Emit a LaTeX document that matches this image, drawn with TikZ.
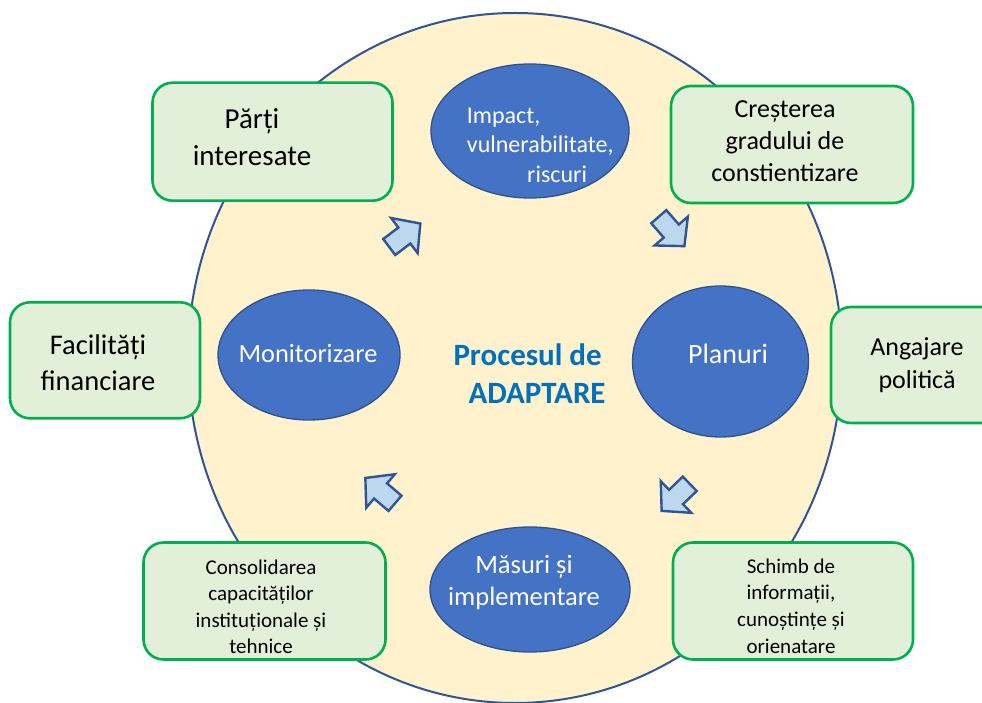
\documentclass[tikz,border=0pt]{standalone}
\usepackage{fontspec}
\setmainfont{Carlito}
\usetikzlibrary{shapes.geometric}
\definecolor{bigfill}{HTML}{FFF2CC}
\definecolor{bigline}{HTML}{2F5597}
\definecolor{ellfill}{HTML}{4472C4}
\definecolor{ellline}{HTML}{2F528F}
\definecolor{boxfill}{HTML}{E2F0D9}
\definecolor{boxline}{HTML}{00B050}
\definecolor{arrfill}{HTML}{BDD7EE}
\definecolor{arrline}{HTML}{2F5597}
\definecolor{titleblue}{HTML}{0070C0}
\newcommand\fsz[2]{\fontsize{#1}{#2}\selectfont}
\tikzset{
  bigell/.style={ellipse, draw=bigline, line width=2pt, fill=bigfill, inner sep=0},
  blueell/.style={ellipse, draw=ellline, line width=1.3pt, fill=ellfill, inner sep=0},
  greenbox/.style={rectangle, rounded corners=20pt, draw=boxline, line width=2.6pt, fill=boxfill, inner sep=0},
  struts/.style={execute at begin node=\strut, execute at end node=\strut},
  boxtext/.style={align=center, inner sep=0, text=black, struts},
  elltext/.style={inner sep=0, text=white},
  arrowshape/.style={draw=arrline, fill=arrfill, line width=2.4pt, line join=miter},
  blockarrow/.pic={\path[arrowshape] (0,-10)--(19,-10)--(19,-22)--(39,0)--(19,22)--(19,10)--(0,10)--cycle;}
}
\begin{document}
\begin{tikzpicture}[x=1pt,y=1pt]
\useasboundingbox (0,0) rectangle (982,702);
\clip (0,0) rectangle (982,702);
\fill[white] (0,0) rectangle (982,702);

% big background ellipse
\node[bigell, minimum width=654pt, minimum height=690pt] (big) at (515,344) {};

% green boxes
\node[greenbox, minimum width=240pt, minimum height=118pt] (bParti) at (272.5,560.3) {};
\node[greenbox, minimum width=242pt, minimum height=117pt] (bCrest) at (792,557.5) {};
\node[greenbox, minimum width=190pt, minimum height=116pt] (bFacil) at (105,341.7) {};
\node[greenbox, minimum width=172pt, minimum height=116pt] (bAngaj) at (917,337) {};
\node[greenbox, minimum width=242pt, minimum height=117pt] (bConsol) at (264.5,101) {};
\node[greenbox, minimum width=240pt, minimum height=117pt] (bSchimb) at (793,101) {};

% blue ellipses
\node[blueell, minimum width=198pt, minimum height=134pt] (eTop) at (530,571) {};
\node[blueell, minimum width=182pt, minimum height=130pt] (eLeft) at (309,347) {};
\node[blueell, minimum width=176pt, minimum height=151pt] (eRight) at (720.5,340.5) {};
\node[blueell, minimum width=200pt, minimum height=125pt] (eBot) at (530,112.5) {};

% block arrows
\pic[rotate=37] at (389.2,455) {blockarrow};
\pic[rotate=-49] at (658.8,485.3) {blockarrow};
\pic[rotate=-136] at (689.7,218.2) {blockarrow};
\pic[rotate=139.5] at (395,198.7) {blockarrow};

% box texts
\node[boxtext, font=\fsz{29}{37}] (tParti) at (252,559.4) {Părți\\interesate};
\node[boxtext, font=\fsz{26}{32}] (tCrest) at (785,556.6) {Creșterea\\gradului de\\constientizare};
\node[boxtext, font=\fsz{28.5}{36}] (tFacil) at (98,334.2) {Facilități\\financiare};
\node[boxtext, font=\fsz{26}{33}] (tAngaj) at (917,334.3) {Angajare\\politică};
\node[boxtext, font=\fsz{21}{26.3}] (tConsol) at (261,91.4) {Consolidarea\\capacităților\\instituționale și\\tehnice};
\node[boxtext, font=\fsz{21}{26.7}] (tSchimb) at (791,92.2) {Schimb de\\informații,\\cunoștințe și\\orienatare};

% ellipse texts
\node[elltext, align=left, anchor=west, struts, font=\fsz{24}{29.5}] (tImpact) at (466.7,552.3) {Impact,\\vulnerabilitate,\\\hspace*{60.3pt}riscuri};
\node[elltext, anchor=base, font=\fsz{26.4}{32}] (tMon) at (308,339.6) {Monitorizare};
\node[elltext, anchor=base, font=\fsz{28}{34}] (tPlan) at (728,338) {Planuri};
\node[elltext, align=center, struts, font=\fsz{26.5}{32}] (tMas) at (524,117) {Măsuri și\\implementare};

% centre title
\node[align=left, anchor=west, inner sep=0, text=titleblue, struts, font=\bfseries\fsz{31}{38}] (tProc) at (453.3,322.5) {Procesul de\\\hspace*{15pt}ADAPTARE};
\end{tikzpicture}
\end{document}
